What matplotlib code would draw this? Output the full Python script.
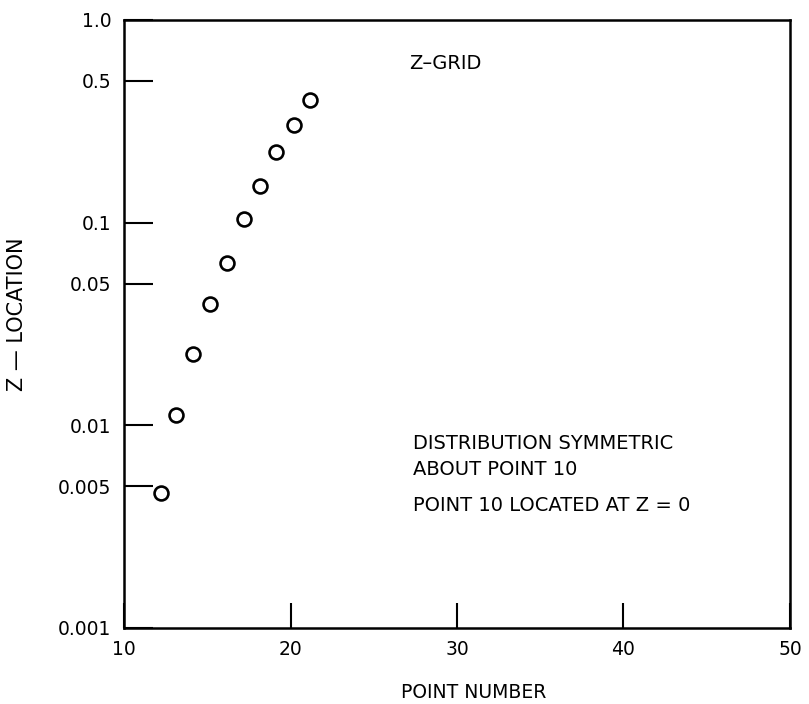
import matplotlib
matplotlib.use("Agg")
import matplotlib.pyplot as plt
from matplotlib.ticker import FixedLocator, FixedFormatter, NullLocator

plt.rcParams['font.family'] = ['DejaVu Sans']

# Z-grid point locations (upper half of a symmetric distribution)
point_number = [12.25, 13.15, 14.15, 15.15, 16.2, 17.2, 18.15, 19.15, 20.2, 21.15]
z_location = [0.00464, 0.01125, 0.0225, 0.0397, 0.0633, 0.1043, 0.1518, 0.2233, 0.3034, 0.403]

x_ticks = [10, 20, 30, 40, 50]
x_tick_labels = ['10', '20', '30', '40', '50']
y_ticks = [0.001, 0.005, 0.01, 0.05, 0.1, 0.5, 1.0]
y_tick_labels = ['0.001', '0.005', '0.01', '0.05', '0.1', '0.5', '1.0']

fig = plt.figure(figsize=(8.09, 7.04), dpi=100)
ax = fig.add_axes([0.1533, 0.108, 0.8232, 0.8636])

ax.plot(point_number, z_location, linestyle='none', marker='o', markersize=10,
        markerfacecolor='white', markeredgecolor='black', markeredgewidth=1.9)

ax.set_yscale('log')
ax.set_xlim(10, 50)
ax.set_ylim(0.001, 1.0)

ax.xaxis.set_major_locator(FixedLocator(x_ticks))
ax.xaxis.set_major_formatter(FixedFormatter(x_tick_labels))
ax.yaxis.set_major_locator(FixedLocator(y_ticks))
ax.yaxis.set_major_formatter(FixedFormatter(y_tick_labels))
ax.yaxis.set_minor_locator(NullLocator())
ax.xaxis.set_minor_locator(NullLocator())

ax.tick_params(axis='y', direction='in', length=21, width=1.5, pad=9, labelsize=13.5)
ax.tick_params(axis='x', direction='in', length=18, width=1.5, pad=9, labelsize=13.5)

for side in ax.spines.values():
    side.set_linewidth(1.8)

ax.set_xlabel('POINT NUMBER', fontsize=13.5)
ax.xaxis.set_label_coords(0.525, -0.0905)
ax.set_ylabel('Z \u2014 LOCATION', fontsize=15)
ax.yaxis.set_label_coords(-0.146, 0.516)

ax.text(0.428, 0.928, 'Z\u2013GRID', transform=ax.transAxes, fontsize=14,
        ha='left', va='center')
ax.text(0.434, 0.3026, 'DISTRIBUTION SYMMETRIC', transform=ax.transAxes,
        fontsize=14, ha='left', va='center')
ax.text(0.434, 0.260, 'ABOUT POINT 10', transform=ax.transAxes,
        fontsize=14, ha='left', va='center')
ax.text(0.434, 0.202, 'POINT 10 LOCATED AT Z = 0', transform=ax.transAxes,
        fontsize=14, ha='left', va='center')

fig.savefig('out.png', dpi=100, facecolor='white')
